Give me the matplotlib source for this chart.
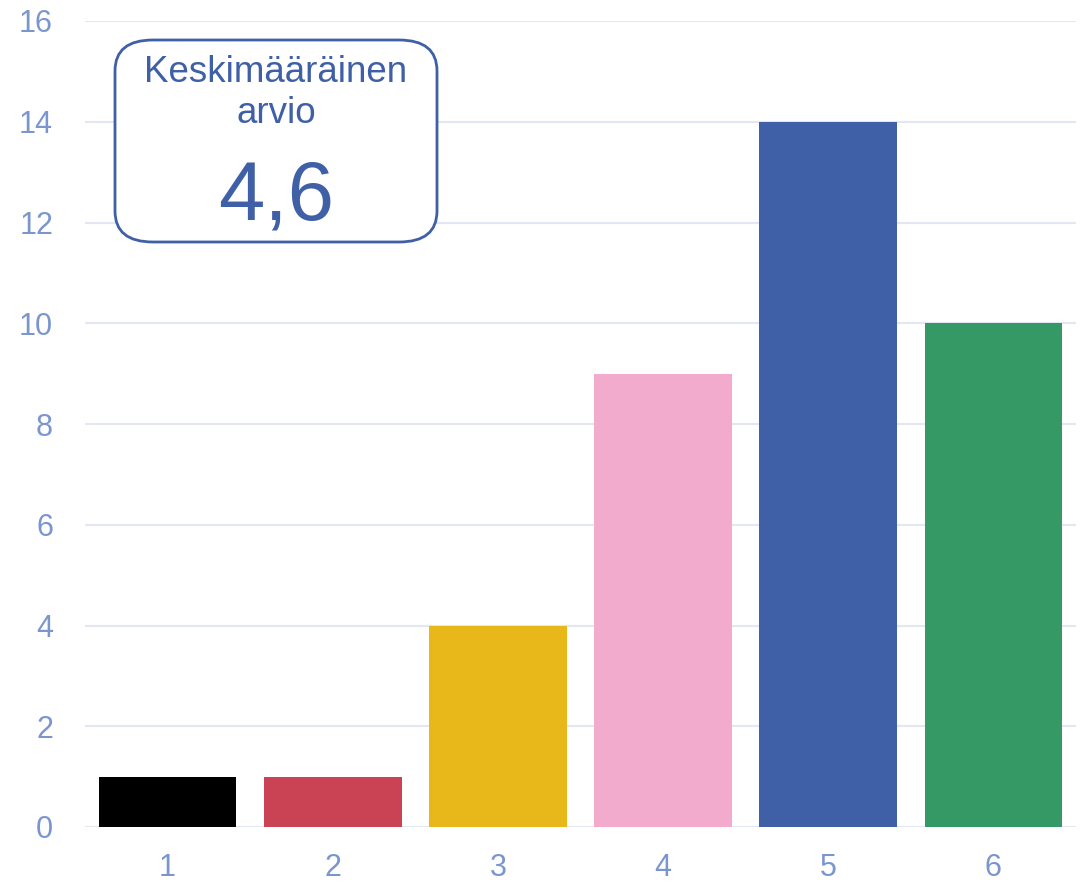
import matplotlib.pyplot as plt
from matplotlib.patches import FancyBboxPatch

plt.rcParams['font.family'] = ['Liberation Sans', 'DejaVu Sans']

grades = [1, 2, 3, 4, 5, 6]
counts = [1, 1, 4, 9, 14, 10]
bar_colors = ["#000000", "#c94355", "#e8b81a", "#f2aacd", "#3f5fa6", "#359966"]
y_ticks = [0, 2, 4, 6, 8, 10, 12, 14, 16]
box_title = "Keskimääräinen\narvio"
box_value = "4,6"

label_color = "#7b96cf"
text_color = "#3f5fa6"
grid_color = "#e3e7f3"

fig = plt.figure(figsize=(10.84, 8.83), dpi=100)
ax = fig.add_axes([85 / 1084, 56 / 883, 991 / 1084, 806 / 883])

ax.bar(grades, counts, width=0.834, color=bar_colors, zorder=3)
ax.set_xlim(0.5, 6.5)
ax.set_ylim(0, 16)
ax.set_xticks(grades)
ax.set_yticks(y_ticks)
ax.grid(axis='y', color=grid_color, linewidth=1.5, zorder=0)
ax.set_axisbelow(True)
for s in ax.spines.values():
    s.set_visible(False)
ax.tick_params(axis='both', length=0, labelsize=22, labelcolor=label_color)
ax.tick_params(axis='y', pad=23)
ax.tick_params(axis='x', pad=19)

# average grade box
box = FancyBboxPatch((115 / 1084, 1 - 242 / 883), 322 / 1084, 202 / 883,
                     boxstyle="round,pad=0,rounding_size=0.035",
                     transform=fig.transFigure, facecolor="white",
                     edgecolor=text_color, linewidth=2, zorder=5)
fig.patches.append(box)
fig.text(276 / 1084, 1 - 93 / 883, box_title, ha='center', va='center',
         fontsize=26.5, color=text_color, linespacing=1.25, zorder=10)
fig.text(276 / 1084, 1 - 219 / 883, box_value, ha='center', va='baseline',
         fontsize=60, color=text_color, zorder=10)

fig.savefig("out.png", dpi=100)
